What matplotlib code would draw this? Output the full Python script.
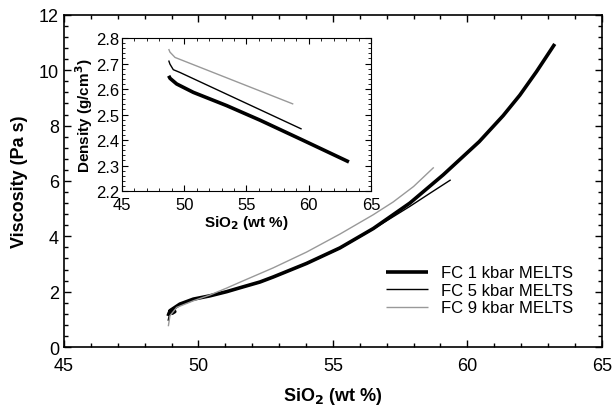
import matplotlib
matplotlib.use('Agg')
import matplotlib.pyplot as plt
from matplotlib.ticker import MultipleLocator

plt.rcParams['font.family'] = ['Liberation Sans', 'DejaVu Sans']

# viscosity curves (SiO2 wt %, Pa s)
fc1_x = [48.87, 48.92, 49.05, 49.12, 49.02, 48.94, 49.31, 49.81, 50.43, 51.05, 51.54, 52.29, 52.78,
         54.02, 55.26, 56.5, 57.86, 59.1, 60.44, 61.33, 61.95, 62.57, 63.25]
fc1_y = [1.12, 1.25, 1.35, 1.28, 1.22, 1.31, 1.55, 1.73, 1.85, 2.00, 2.14, 2.35, 2.53,
         3.02, 3.58, 4.28, 5.20, 6.22, 7.42, 8.36, 9.10, 9.95, 10.95]
fc5_x = [48.87, 48.92, 49.0, 49.31, 49.81, 50.43, 51.05, 51.54, 52.29, 52.78, 54.02, 55.26, 56.5, 57.86, 58.6, 59.38]
fc5_y = [0.95, 1.15, 1.30, 1.52, 1.71, 1.84, 1.99, 2.13, 2.34, 2.52, 3.01, 3.56, 4.26, 5.08, 5.55, 6.04]
fc9_x = [48.88, 48.94, 49.19, 49.81, 50.43, 51.05, 51.54, 52.78, 54.02, 55.26, 56.5, 57.24, 58.0, 58.75]
fc9_y = [0.75, 1.13, 1.43, 1.67, 1.88, 2.13, 2.34, 2.86, 3.43, 4.08, 4.78, 5.24, 5.80, 6.49]

# density curves (SiO2 wt %, g/cm3)
d1_x = [48.75, 48.86, 49.39, 50.73, 53.41, 56.08, 59.5, 63.23]
d1_y = [2.652, 2.642, 2.62, 2.587, 2.535, 2.478, 2.40, 2.314]
d5_x = [48.75, 48.85, 49.12, 49.66, 59.43]
d5_y = [2.712, 2.698, 2.676, 2.665, 2.443]
d9_x = [48.75, 48.85, 49.26, 58.76]
d9_y = [2.757, 2.745, 2.724, 2.541]

labels = ['FC 1 kbar MELTS', 'FC 5 kbar MELTS', 'FC 9 kbar MELTS']
colors = ['black', 'black', '#999999']
widths = [2.6, 1.0, 1.0]

fig = plt.figure(figsize=(6.14, 4.10), dpi=100)
ax = fig.add_axes([0.1042, 0.1512, 0.876, 0.81])

for xs, ys, lab, c, w in zip([fc1_x, fc5_x, fc9_x], [fc1_y, fc5_y, fc9_y], labels, colors, widths):
    ax.plot(xs, ys, color=c, lw=w, label=lab, solid_capstyle='butt', solid_joinstyle='round')

ax.set_xlim(45, 65)
ax.set_ylim(0, 12)
ax.xaxis.set_major_locator(MultipleLocator(5))
ax.xaxis.set_minor_locator(MultipleLocator(1))
ax.yaxis.set_major_locator(MultipleLocator(2))
ax.yaxis.set_minor_locator(MultipleLocator(0.4))
ax.tick_params(which='both', direction='in', top=True, right=True, labelsize=13, width=1)
ax.tick_params(which='major', length=5)
ax.tick_params(which='minor', length=3)
ax.tick_params(axis='x', pad=7)
for s in ax.spines.values():
    s.set_linewidth(1.2)
ax.set_xlabel(r'SiO$_\mathbf{2}$ (wt %)', fontsize=13, fontweight='bold', labelpad=8)
ax.set_ylabel('Viscosity (Pa s)', fontsize=13, fontweight='bold', labelpad=8)
ax.legend(loc='lower right', bbox_to_anchor=(0.975, 0.05), frameon=False, fontsize=12,
          handlelength=2.5, handletextpad=0.8, labelspacing=0.15)

ins = fig.add_axes([0.1987, 0.5317, 0.4055, 0.373])
for xs, ys, c, w in zip([d1_x, d5_x, d9_x], [d1_y, d5_y, d9_y], colors, widths):
    ins.plot(xs, ys, color=c, lw=w, solid_capstyle='butt', solid_joinstyle='round')
ins.set_xlim(45, 65)
ins.set_ylim(2.2, 2.8)
ins.xaxis.set_major_locator(MultipleLocator(5))
ins.xaxis.set_minor_locator(MultipleLocator(1))
ins.yaxis.set_major_locator(MultipleLocator(0.1))
ins.yaxis.set_minor_locator(MultipleLocator(0.02))
ins.tick_params(which='both', direction='in', top=True, right=True, labelsize=12, pad=2)
ins.tick_params(axis='x', pad=4)
ins.tick_params(which='major', length=4)
ins.tick_params(which='minor', length=2)
ins.set_xlabel(r'SiO$_\mathbf{2}$ (wt %)', fontsize=11, fontweight='bold', labelpad=1)
ins.set_ylabel(r'Density (g/cm$^\mathbf{3}$)', fontsize=11, fontweight='bold', labelpad=1)

fig.savefig('out.png', dpi=100)
